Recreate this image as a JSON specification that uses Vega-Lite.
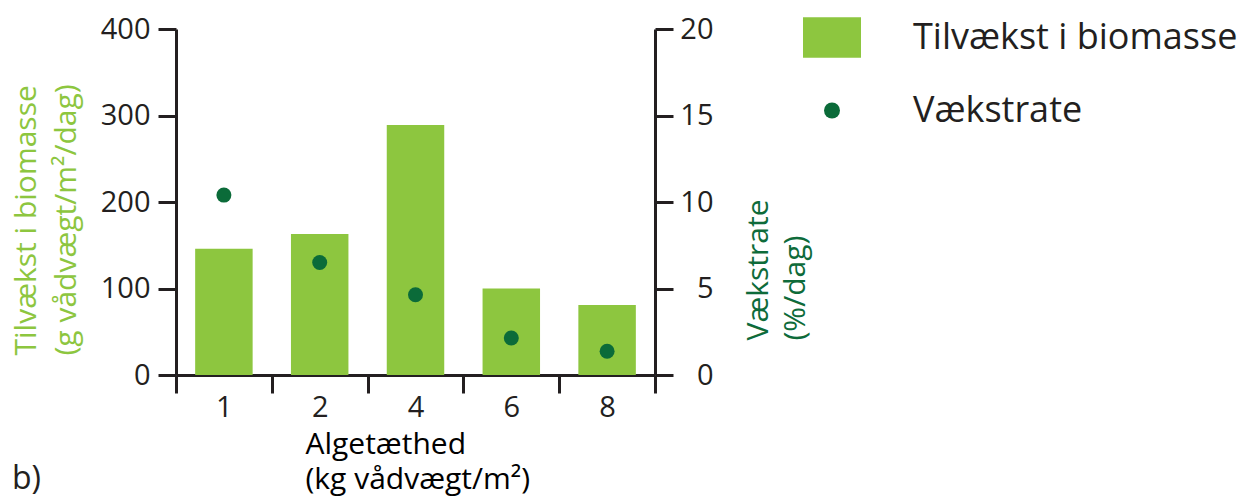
{
  "$schema": "https://vega.github.io/schema/vega-lite/v6.json",
  "width": 479,
  "height": 346,
  "autosize": {"type": "none"},
  "padding": {"left": 176, "top": 29, "right": 588, "bottom": 126},
  "background": "white",
  "title": {"text": "b)", "orient": "bottom", "anchor": "start", "frame": "group", "fontSize": 32, "font": "Open Sans", "fontWeight": "normal", "color": "#231f20", "dx": -164, "dy": -9, "baseline": "alphabetic"},
  "data": {
    "values": [
      {"density": 1, "biomass": 146, "rate": 10.4},
      {"density": 2, "biomass": 163, "rate": 6.5},
      {"density": 4, "biomass": 289, "rate": 4.64},
      {"density": 6, "biomass": 100, "rate": 2.14},
      {"density": 8, "biomass": 81, "rate": 1.37}
    ]
  },
  "encoding": {
    "x": {
      "field": "density",
      "type": "ordinal",
      "scale": {"paddingInner": 0, "paddingOuter": 0},
      "axis": {
        "title": ["Algetæthed", "(kg vådvægt/m²)"],
        "titleAlign": "left",
        "titleBaseline": "alphabetic",
        "titleX": 129,
        "titleY": 78,
        "titleLineHeight": 35,
        "labelAngle": 0,
        "tickBand": "extent",
        "tickSize": 18,
        "labelPadding": 0,
        "labelBaseline": "top"
      }
    }
  },
  "layer": [
    {
      "mark": {"type": "bar", "width": {"band": 0.6}},
      "encoding": {
        "y": {
          "field": "biomass",
          "type": "quantitative",
          "scale": {"domain": [0, 400], "nice": false},
          "axis": {
            "title": ["Tilvækst i biomasse", "(g vådvægt/m²/dag)"],
            "titleColor": "#8dc63f",
            "titleAngle": -90,
            "titleAlign": "left",
            "titleBaseline": "alphabetic",
            "titleX": -141,
            "titleY": 326,
            "titleLineHeight": 40,
            "values": [0, 100, 200, 300, 400],
            "tickSize": 18,
            "labelPadding": 8
          }
        },
        "color": {
          "datum": "Tilvækst i biomasse",
          "type": "nominal",
          "scale": {"domain": ["Tilvækst i biomasse", "Vækstrate"], "range": ["#8dc63f", "#0b6b39"]},
          "legend": {
            "orient": "none",
            "legendX": 627,
            "legendY": -20.5,
            "title": null,
            "symbolSize": 3364,
            "labelFontSize": 36,
            "labelFont": "Open Sans",
            "labelColor": "#231f20",
            "labelOffset": 52,
            "labelLimit": 0,
            "rowPadding": 23,
            "symbolStrokeWidth": 0,
            "symbolOpacity": 1,
            "encode": {
              "symbols": {
                "update": {
                  "shape": {"signal": "datum.value === 'Vækstrate' ? 'circle' : 'M-1,-0.7H1V0.7H-1Z'"},
                  "size": {"signal": "datum.value === 'Vækstrate' ? 256 : 3364"},
                  "fill": {"scale": "color", "field": "value"},
                  "strokeWidth": {"value": 0}
                }
              }
            }
          }
        }
      }
    },
    {
      "mark": {"type": "point", "filled": true, "size": 225, "opacity": 1},
      "encoding": {
        "y": {
          "field": "rate",
          "type": "quantitative",
          "scale": {"domain": [0, 20], "nice": false},
          "axis": {
            "orient": "right",
            "title": ["Vækstrate", "(%/dag)"],
            "titleColor": "#0e6b3a",
            "titleAngle": -90,
            "titleAlign": "left",
            "titleBaseline": "alphabetic",
            "titleX": 112,
            "titleY": 311,
            "titleLineHeight": 37,
            "values": [0, 5, 10, 15, 20],
            "tickSize": 18,
            "labelAlign": "right",
            "labelPadding": 40
          }
        },
        "color": {"datum": "Vækstrate", "type": "nominal"}
      }
    }
  ],
  "resolve": {"scale": {"y": "independent"}},
  "config": {
    "view": {"stroke": null},
    "font": "Open Sans",
    "axis": {
      "grid": false,
      "domainColor": "#231f20",
      "domainWidth": 3,
      "tickColor": "#231f20",
      "tickWidth": 3,
      "labelColor": "#231f20",
      "labelFont": "Open Sans",
      "labelFontSize": 29,
      "titleFont": "Open Sans",
      "titleFontSize": 30,
      "titleFontWeight": "normal"
    }
  }
}
